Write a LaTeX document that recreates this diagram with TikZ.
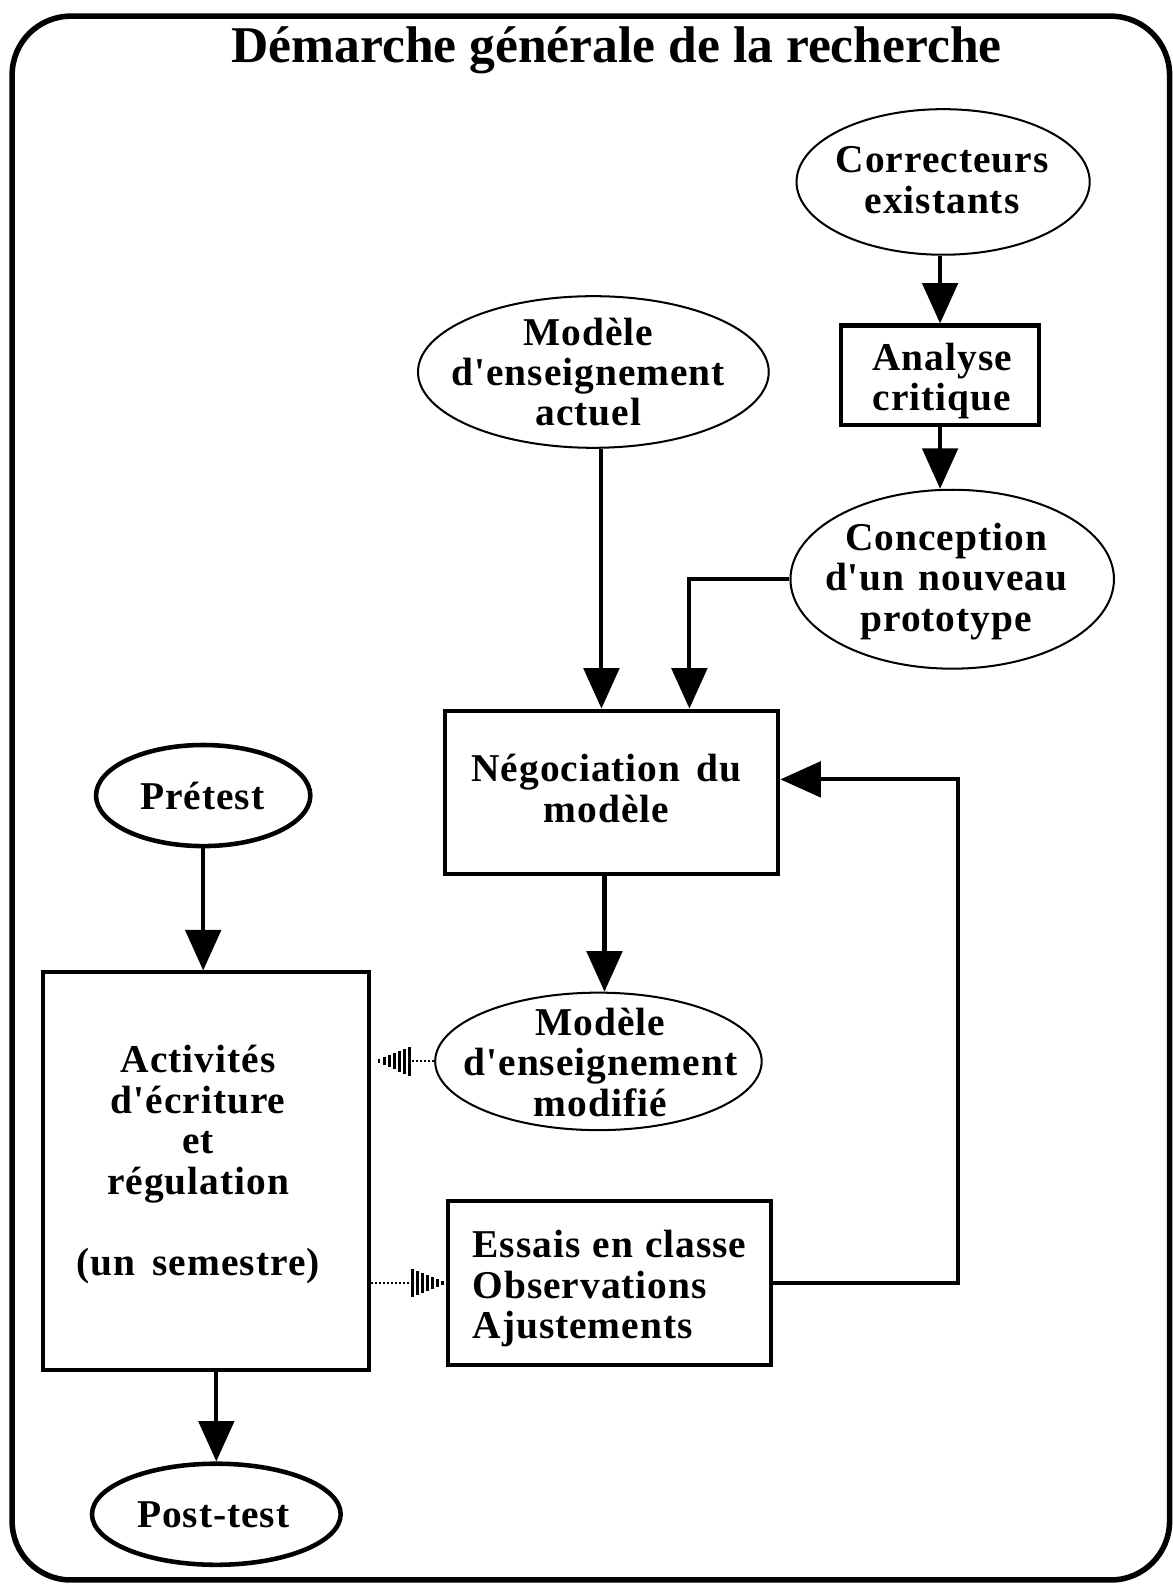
\documentclass[tikz,border=0pt]{standalone}
\usepackage{fontspec}
\setmainfont{Liberation Serif}[Ligatures=TeXOff]
\newfontfamily\nodefont{Liberation Serif}[Ligatures=TeXOff,LetterSpace=2.5]
\usetikzlibrary{shapes.geometric,arrows.meta,calc}
\tikzset{
  txt/.style={align=center,font=\nodefont\fontsize{39}{40}\selectfont\bfseries,inner sep=0},
  boxnode/.style={draw,line width=4,rectangle,inner sep=0},
  oval/.style={draw,ellipse,line width=2,inner sep=0},
  thickoval/.style={draw,ellipse,line width=4.5,inner sep=0},
  arr/.style={line width=4,-{Triangle[width=35pt,length=40pt]}},
  dotline/.style={line width=2,dash pattern=on 2pt off 2pt},
  hatchL/.pic={\foreach \i in {0,...,6}{\draw[line width=2.8] ({3+\i*5},{-(2+2*\i)}) -- ({3+\i*5},{2+2*\i});}}
}
\begin{document}
\begin{tikzpicture}[x=1pt,y=-1pt]
\useasboundingbox (0,0) rectangle (1160,1568);
\draw[line width=5.5,rounded corners=58] (12,16) rectangle (1157,1563);
\node[inner sep=0,font=\fontsize{51}{60}\selectfont\bfseries] (title) at (610,50) {Démarche générale de la recherche};

% ellipses
\node[oval,minimum width=290,minimum height=144] (ce) at (933,180) {};
\node[txt] (cet) at (932,178) {Correcteurs\\existants};
\node[oval,minimum width=347,minimum height=150] (ma) at (587,368) {};
\node[txt] (mat) at (582,368) {Modèle\\d'enseignement\\actuel};
\node[oval,minimum width=320,minimum height=177] (con) at (942,573) {};
\node[txt] (cont) at (936,575) {Conception\\d'un\hspace{14pt}nouveau\\prototype};
\node[oval,minimum width=323,minimum height=136] (mm) at (592,1050) {};
\node[txt] (mmt) at (594,1051) {Modèle\\d'enseignement\\modifié};
\node[thickoval,minimum width=212,minimum height=100] (pre) at (201,787) {};
\node[txt] (pret) at (200,787) {Prétest};
\node[thickoval,minimum width=246,minimum height=100] (post) at (214,1498) {};
\node[txt] (postt) at (211,1499) {Post-test};

% boxes
\node[boxnode,minimum width=196,minimum height=98] (ac) at (930,371) {};
\node[txt] (act-t) at (932,377) {Analyse\\critique};
\node[boxnode,minimum width=330,minimum height=162] (neg) at (605,784) {};
\node[txt] (neg-t) at (600,780) {Négociation\hspace{16pt}du\\modèle};
\node[boxnode,minimum width=322,minimum height=393] (act) at (204,1158.5) {};
\node[txt] (act-tt) at (196,1152) {Activités\\d'écriture\\et\\régulation\\[40pt](un\hspace{17pt}semestre)};
\node[boxnode,minimum width=320,minimum height=162] (es) at (603,1269) {};
\node[txt,align=left] (es-t) at (603,1275) {Essais\hspace{12pt}en\hspace{12pt}classe\\Observations\\Ajustements};

% connectors
\draw[arr] (ac.north |- ce.south) -- (ac.north);
\draw[arr] (ac.south) -- (ac.south |- con.north);
\draw[arr] ([xshift=8]ma.south) -- ([xshift=8]ma.south |- neg.north);
\draw[arr] (con.west) -| ([xshift=77]neg.north);
\draw[arr] ([xshift=-7]neg.south) -- ([xshift=-7]neg.south |- mm.north);
\draw[arr] (es.east) -- ++(183,0) |- ([yshift=13]neg.east);
\draw[arr] (pre.south) -- (pre.south |- act.north);
\draw[arr] (post.north |- act.south) -- (post.north);

% dotted connectors with hatched heads
\draw[dotline] (mm.west) -- ([xshift=41]act.east |- mm.west);
\pic at ([xshift=5]act.east |- mm.west) {hatchL};
\draw[dotline] (act.east |- es.west) -- ([xshift=-36]es.west);
\pic[rotate=180] at (es.west) {hatchL};
\end{tikzpicture}
\end{document}
